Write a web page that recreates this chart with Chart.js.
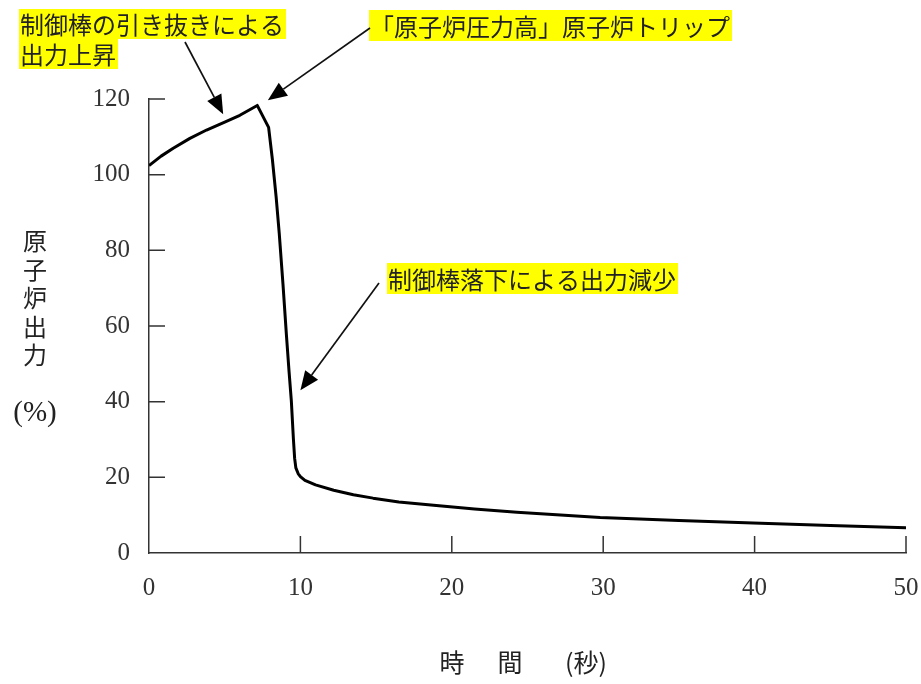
<!DOCTYPE html>
<html>
<head>
<meta charset="utf-8">
<script src="https://cdn.jsdelivr.net/npm/chart.js@4/dist/chart.umd.min.js"></script>
<style>
  html, body { margin: 0; padding: 0; background: #fff; }
  #wrap { width: 921px; height: 684px; }
</style>
</head>
<body>
<div id="wrap"><canvas id="myChart" width="921" height="684"></canvas></div>
<script>
// time (s) and reactor power (%)
const timeSec  = [0, 0.8, 1.6, 2.7, 3.8, 5.0, 6.0, 7.15, 7.9, 8.15, 8.4, 8.6, 8.85, 9.07, 9.25, 9.4, 9.54, 9.62, 9.7, 9.85, 10.0, 10.3, 11.0, 12.2, 13.5, 14.8, 16.5, 18.8, 21.5, 24.3, 29.8, 35, 39.9, 45, 50];
const powerPct = [102.4, 104.9, 107, 109.6, 111.8, 113.9, 115.7, 118.3, 112.5, 104, 94, 84.6, 71, 58, 48, 40.3, 30, 25, 22.5, 21, 20.2, 19.2, 18, 16.6, 15.4, 14.5, 13.5, 12.6, 11.6, 10.8, 9.4, 8.6, 7.9, 7.3, 6.7];

const xTicks = [0, 10, 20, 30, 40, 50];
const yTicks = [0, 20, 40, 60, 80, 100, 120];

// annotation labels (text lines) and where their arrows point (in data units)
const noteLines = [
  ['制御棒の引き抜きによる', '出力上昇'],
  ['「原子炉圧力高」原子炉トリップ'],
  ['制御棒落下による出力減少']
];
const noteTips = [[4.9, 116], [7.85, 119.7], [10.0, 43]];

const CJK = '"Noto Sans CJK JP", "Noto Sans", sans-serif';
const SERIF = '"Liberation Serif", "DejaVu Serif", serif';

function arrow(ctx, x0, y0, x1, y1){ // line with a filled head at (x1,y1)
    let a = Math.atan2(y1 - y0, x1 - x0);
    let len = 19, half = 8;
    let bx = x1 - len * Math.cos(a), by = y1 - len * Math.sin(a);
    ctx.strokeStyle = '#111';
    ctx.lineWidth = 1.7;
    ctx.beginPath();
    ctx.moveTo(x0, y0);
    ctx.lineTo(bx, by);
    ctx.stroke();
    ctx.fillStyle = '#000';
    ctx.beginPath();
    ctx.moveTo(x1, y1);
    ctx.lineTo(bx + half * Math.sin(a), by - half * Math.cos(a));
    ctx.lineTo(bx - half * Math.sin(a), by + half * Math.cos(a));
    ctx.closePath();
    ctx.fill();
}

function note(ctx, lines, left, top, lineH){ // yellow highlighted text
    ctx.font = '24px ' + CJK;
    ctx.textBaseline = 'middle';
    ctx.textAlign = 'left';
    lines.forEach((t, i) => {
        let w = ctx.measureText(t).width;
        ctx.fillStyle = '#ffff00';
        ctx.fillRect(left, top + i * lineH, w + 3, lineH);
        ctx.fillStyle = '#222';
        ctx.fillText(t, left + 1, top + i * lineH + lineH / 2 + 1);
    });
}

const extras = {
    id: 'extras',
    afterDraw(chart){
        const ctx = chart.ctx;
        const xs = chart.scales.x, ys = chart.scales.y;
        ctx.save();

        // inward tick marks
        ctx.strokeStyle = '#333';
        ctx.lineWidth = 1.5;
        ctx.beginPath();
        yTicks.forEach(v => {
            if (v === 0) return;
            let py = ys.getPixelForValue(v);
            ctx.moveTo(xs.left, py);
            ctx.lineTo(xs.left + 16, py);
        });
        xTicks.forEach(v => {
            if (v === 0) return;
            let px = xs.getPixelForValue(v);
            ctx.moveTo(px, ys.bottom);
            ctx.lineTo(px, ys.bottom - 17);
        });
        ctx.stroke();

        // y axis title, stacked characters
        ctx.fillStyle = '#222';
        ctx.textAlign = 'center';
        ctx.textBaseline = 'middle';
        ctx.font = '24px ' + CJK;
        ['原', '子', '炉', '出', '力'].forEach((c, i) => ctx.fillText(c, 35, 241 + i * 28.5));
        ctx.font = '29px ' + SERIF;
        ctx.fillText('(%)', 35, 413);

        // x axis title
        ctx.font = '25px ' + CJK;
        ctx.fillText('時', 452, 662);
        ctx.fillText('間', 510, 662);
        ctx.fillText('(秒)', 586, 662);

        // annotations
        note(ctx, noteLines[0], 19, 9, 30);
        note(ctx, noteLines[1], 369, 10, 31);
        note(ctx, noteLines[2], 387, 263, 31);

        arrow(ctx, 185, 42, xs.getPixelForValue(noteTips[0][0]), ys.getPixelForValue(noteTips[0][1]));
        arrow(ctx, 370, 28, xs.getPixelForValue(noteTips[1][0]), ys.getPixelForValue(noteTips[1][1]));
        arrow(ctx, 379, 283, xs.getPixelForValue(noteTips[2][0]), ys.getPixelForValue(noteTips[2][1]));

        ctx.restore();
    }
};

const points = timeSec.map((t, i) => ({x: t, y: powerPct[i]}));

const CTX = document.getElementById('myChart').getContext('2d');
const CONFIG = {
    type: 'line',
    data: {
        datasets: [{
            data: points,
            borderColor: '#000',
            borderWidth: 3,
            borderJoinStyle: 'round',
            fill: false,
            tension: 0,
            pointRadius: 0
        }]
    },
    options: {
        responsive: false,
        animation: false,
        layout: { padding: { left: 0, top: 99, right: 15, bottom: 0 } },
        plugins: { legend: { display: false }, tooltip: { enabled: false } },
        scales: {
            x: {
                type: 'linear',
                min: 0, max: 50,
                afterBuildTicks: s => { s.ticks = xTicks.map(v => ({value: v})); },
                afterFit: s => { s.height = 131; s.paddingLeft = 0; s.paddingRight = 0; },
                grid: { display: false, drawTicks: false },
                border: { display: true, color: '#333', width: 1.5 },
                ticks: { color: '#333', padding: 20, maxRotation: 0, font: { family: SERIF, size: 25 } }
            },
            y: {
                min: 0, max: 120,
                afterBuildTicks: s => { s.ticks = yTicks.map(v => ({value: v})); },
                afterFit: s => { s.width = 149; s.paddingTop = 0; s.paddingBottom = 0; },
                grid: { display: false, drawTicks: false },
                border: { display: true, color: '#333', width: 1.5 },
                ticks: { color: '#333', padding: 19, font: { family: SERIF, size: 25 } }
            }
        }
    },
    plugins: [extras]
};
const myChart = new Chart(CTX, CONFIG);
</script>
</body>
</html>
